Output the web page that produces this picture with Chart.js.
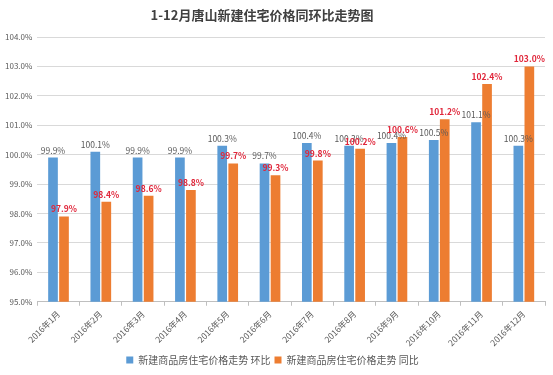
<!DOCTYPE html>
<html>
<head>
<meta charset="utf-8">
<script src="https://cdn.jsdelivr.net/npm/chart.js@4/dist/chart.umd.min.js"></script>
<style>
  html, body { margin: 0; padding: 0; background: #fff; }
  #wrap { width: 553px; height: 375px; position: relative; }
</style>
</head>
<body>
<div id="wrap"><canvas id="chartTrend"></canvas></div>
<script>
const months = ['2016年1月', '2016年2月', '2016年3月', '2016年4月', '2016年5月', '2016年6月',
  '2016年7月', '2016年8月', '2016年9月', '2016年10月', '2016年11月', '2016年12月'];
const huanbi = [99.9, 100.1, 99.9, 99.9, 100.3, 99.7, 100.4, 100.3, 100.4, 100.5, 101.1, 100.3];
const tongbi = [97.9, 98.4, 98.6, 98.8, 99.7, 99.3, 99.8, 100.2, 100.6, 101.2, 102.4, 103.0];
const seriesNames = ['新建商品房住宅价格走势 环比', '新建商品房住宅价格走势 同比'];
const chartTitle = '1-12月唐山新建住宅价格同环比走势图';

const FONT = '"Noto Sans CJK SC", "Noto Sans", sans-serif';

// title (drawn by hand, the original is a bit left of centre) and value labels
const barLabels = {
  id: 'barLabels',
  afterDatasetsDraw(chart) {
    const { ctx } = chart;
    const colors = ['#595959', '#e0263a'];
    ctx.save();
    ctx.textAlign = 'center';
    ctx.textBaseline = 'middle';
    ctx.fillStyle = '#404040';
    ctx.font = 'bold 13px ' + FONT;
    ctx.fillText(chartTitle, 262, 15);

    ctx.textBaseline = 'bottom';
    chart.data.datasets.forEach((ds, i) => {
      const meta = chart.getDatasetMeta(i);
      ctx.fillStyle = colors[i];
      ctx.font = (i === 1 ? 'bold ' : '') + '8.5px ' + FONT;
      meta.data.forEach((bar, j) => {
        ctx.fillText(ds.data[j].toFixed(1) + '%', bar.x, bar.y - 3);
      });
    });
    ctx.restore();
  },
};

new Chart(document.getElementById('chartTrend').getContext('2d'), {
  type: 'bar',
  data: {
    labels: months,
    datasets: [
      {
        label: seriesNames[0],
        data: huanbi,
        backgroundColor: '#5b9bd5',
        categoryPercentage: 0.52,
        barPercentage: 0.88,
      },
      {
        label: seriesNames[1],
        data: tongbi,
        backgroundColor: '#ed7d31',
        categoryPercentage: 0.52,
        barPercentage: 0.88,
      },
    ],
  },
  options: {
    responsive: true,
    maintainAspectRatio: false,
    animation: false,
    layout: { padding: { left: 0, right: 8, top: 37, bottom: 0 } },
    scales: {
      x: {
        grid: { offset: true, drawOnChartArea: false, tickLength: 4, color: '#bfbfbf' },
        border: { color: '#bfbfbf' },
        ticks: {
          maxRotation: 45,
          minRotation: 45,
          color: '#595959',
          font: { family: FONT, size: 8.5 },
          padding: 3,
        },
      },
      y: {
        min: 95,
        max: 104,
        grid: { color: '#d9d9d9', drawTicks: false },
        border: { display: false },
        ticks: {
          stepSize: 1,
          padding: 5,
          color: '#595959',
          font: { family: FONT, size: 8 },
          callback: (value) => value.toFixed(1) + '%',
        },
      },
    },
    plugins: {
      legend: {
        position: 'bottom',
        labels: {
          boxWidth: 7,
          boxHeight: 7,
          padding: 4,
          color: '#595959',
          font: { family: FONT, size: 10 },
        },
      },
      tooltip: { enabled: false },
    },
  },
  plugins: [barLabels],
});
</script>
</body>
</html>
